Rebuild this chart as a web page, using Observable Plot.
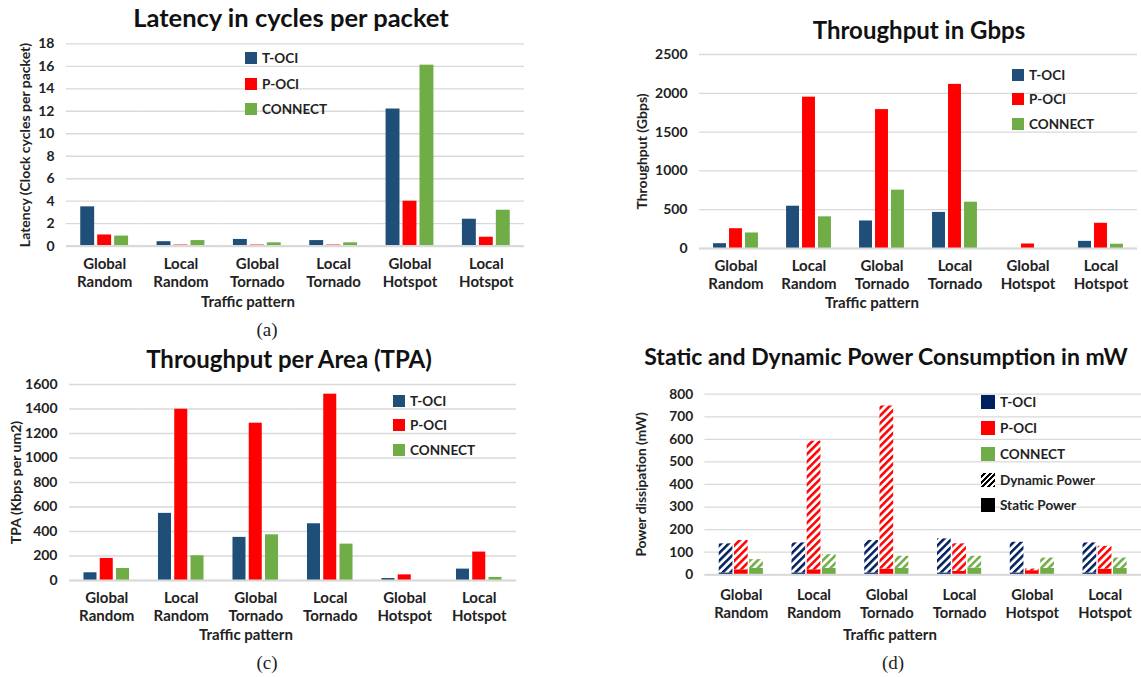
<!DOCTYPE html>
<html><head><meta charset="utf-8">
<script src="https://cdn.jsdelivr.net/npm/d3@7"></script>
<script src="https://cdn.jsdelivr.net/npm/@observablehq/plot@0.6"></script>
<style>
html,body{margin:0;padding:0;background:#fff;overflow:hidden;}
body{width:1141px;height:677px;position:relative;font-family:Lato,"Open Sans",sans-serif;color:#222;}
.panel{position:absolute;line-height:0;}
.panel svg{overflow:visible;display:block;}
.title{position:absolute;font-weight:bold;font-size:24px;color:#111;white-space:nowrap;transform:translate(-50%,-50%);}
.xlab{position:absolute;font-weight:bold;font-size:15px;color:#222;transform:translate(-50%,-50%);white-space:nowrap;}
.cap{position:absolute;font-family:"Liberation Serif","DejaVu Serif",serif;font-size:19px;color:#222;transform:translate(-50%,-50%);}
.item{position:absolute;display:flex;align-items:center;white-space:nowrap;transform:translateY(-50%);font-weight:bold;font-size:13.5px;color:#222;}
.sw{width:12px;height:12px;margin-right:5px;}
</style></head><body>
<svg width="0" height="0" style="position:absolute">
<defs>
<pattern id="hatch-toci" patternUnits="userSpaceOnUse" width="5.5" height="5.5" patternTransform="rotate(45)"><rect width="5.5" height="5.5" fill="#fff"/><rect width="2.6" height="5.5" fill="#002060"/></pattern>
<pattern id="hatch-poci" patternUnits="userSpaceOnUse" width="5.5" height="5.5" patternTransform="rotate(45)"><rect width="5.5" height="5.5" fill="#fff"/><rect width="2.6" height="5.5" fill="#FF0000"/></pattern>
<pattern id="hatch-connect" patternUnits="userSpaceOnUse" width="5.5" height="5.5" patternTransform="rotate(45)"><rect width="5.5" height="5.5" fill="#fff"/><rect width="2.6" height="5.5" fill="#70AD47"/></pattern>
</defs></svg>
<script>
// ---------- data ----------
const patterns = ["Global Random","Local Random","Global Tornado","Local Tornado","Global Hotspot","Local Hotspot"];
const seriesNames = ["T-OCI","P-OCI","CONNECT"];
const colorsABC = ["#1F4E79","#FF0000","#70AD47"];
const colorsD = ["#002060","#FF0000","#70AD47"];

const latencyTOCI    = [3.5, 0.4, 0.6, 0.5, 12.2, 2.4];
const latencyPOCI    = [1.0, 0.1, 0.1, 0.1, 4.0, 0.8];
const latencyCONNECT = [0.9, 0.5, 0.3, 0.3, 16.1, 3.2];
const latencyTicks = [0,2,4,6,8,10,12,14,16,18];

const throughputTOCI    = [62, 545, 355, 465, 0, 92];
const throughputPOCI    = [255, 1950, 1790, 2115, 58, 325];
const throughputCONNECT = [200, 408, 752, 597, 0, 55];
const throughputTicks = [0,500,1000,1500,2000,2500];

const tpaTOCI    = [63, 548, 352, 463, 16, 93];
const tpaPOCI    = [180, 1398, 1284, 1521, 46, 232];
const tpaCONNECT = [98, 202, 373, 297, 0, 25];
const tpaTicks = [0,200,400,600,800,1000,1200,1400,1600];

const staticTOCI     = [8, 8, 8, 8, 8, 8];
const dynamicTOCI    = [129, 133, 144, 151, 136, 133];
const staticPOCI     = [22, 22, 25, 15, 18, 25];
const dynamicPOCI    = [130, 570, 723, 122, 7, 101];
const staticCONNECT  = [28, 28, 28, 30, 28, 28];
const dynamicCONNECT = [39, 61, 54, 52, 46, 46];
const powerTicks = [0,100,200,300,400,500,600,700,800];
const hatchIds = ["url(#hatch-toci)","url(#hatch-poci)","url(#hatch-connect)"];

// ---------- helpers ----------
function rows(a, b, c) {
  const vals = [a, b, c];
  return patterns.flatMap((p, i) => seriesNames.map((s, k) => ({pattern: p, series: s, value: vals[k][i]})));
}
const fmtPattern = d => d.replace(" ", "\n");
const font = "Lato, 'Open Sans', sans-serif";

function place(el, left, top) {
  const div = document.createElement("div");
  div.className = "panel";
  div.style.left = left + "px";
  div.style.top = top + "px";
  div.appendChild(el);
  document.body.appendChild(div);
}
function html(cls, text, x, y, size) {
  const d = document.createElement("div");
  d.className = cls; d.textContent = text;
  d.style.left = x + "px"; d.style.top = y + "px";
  if (size) d.style.fontSize = size + "px";
  document.body.appendChild(d);
}
function legend(items, x, ys, size) {
  items.forEach(([label, fill], i) => {
    const d = document.createElement("div");
    d.className = "item";
    d.style.left = x + "px"; d.style.top = ys[i] + "px";
    const sw = document.createElement("div");
    sw.className = "sw"; sw.style.background = fill;
    sw.style.width = size + "px"; sw.style.height = size + "px";
    const t = document.createElement("span"); t.textContent = label;
    d.appendChild(sw); d.appendChild(t);
    document.body.appendChild(d);
  });
}

function chart({data, ticks, yLabel, width, height, ml, mr, mt, mb, pi, po, colors, labelOffset, stacked, tickPad = 10, lh = 1.2}) {
  return Plot.plot({
    width, height,
    marginLeft: ml, marginRight: mr, marginTop: mt, marginBottom: mb,
    style: {fontFamily: font, fontSize: "14px", color: "#222", background: "transparent", overflow: "visible"},
    fx: {domain: patterns, padding: 0, round: false},
    x: {domain: seriesNames, paddingInner: pi, paddingOuter: po, axis: null, round: false},
    y: {domain: [ticks[0], ticks[ticks.length - 1]]},
    color: stacked ? {type: "identity"} : {domain: seriesNames, range: colors},
    marks: [
      Plot.gridY(ticks, {stroke: "#d9d9d9", strokeOpacity: 1, strokeWidth: 1.3}),
      stacked
        ? Plot.barY(data, {fx: "pattern", x: "series", y: "value", fill: "fill"})
        : Plot.barY(data, {fx: "pattern", x: "series", y: "value", fill: "series"}),
      Plot.ruleY([0], {stroke: "#d9d9d9", strokeWidth: 2.2}),
      Plot.axisY(ticks, {tickSize: 0, tickPadding: 12, fontWeight: "bold", fontSize: 14,
        tickFormat: d3.format("d"), label: yLabel, labelAnchor: "center", labelArrow: "none", labelOffset}),
      Plot.axisFx({anchor: "bottom", tickSize: 0, tickPadding: tickPad, fontWeight: "bold", fontSize: 15, lineHeight: lh, tickFormat: fmtPattern, label: null})
    ]
  });
}

// ---------- (a) Latency ----------
place(chart({
  data: rows(latencyTOCI, latencyPOCI, latencyCONNECT), ticks: latencyTicks,
  yLabel: "Latency (Clock cycles per packet)",
  width: 540, height: 280, ml: 66, mr: 16, mt: 13.3, mb: 64.3,
  pi: 0.18, po: 0.84, colors: colorsABC, labelOffset: 46
}), 0, 30);
html("title", "Latency in cycles per packet", 291, 17, 25.5);
html("xlab", "Traffic pattern", 248, 301);
html("cap", "(a)", 267, 330);
legend(seriesNames.map((s, i) => [s, colorsABC[i]]), 245, [58, 84, 109], 12);

// ---------- (b) Throughput ----------
place(chart({
  data: rows(throughputTOCI, throughputPOCI, throughputCONNECT), ticks: throughputTicks,
  yLabel: "Throughput (Gbps)",
  width: 571, height: 270, ml: 129, mr: 4, mt: 14, mb: 62,
  pi: 0.19, po: 0.88, colors: colorsABC, labelOffset: 62
}), 570, 40);
html("title", "Throughput in Gbps", 919, 29);
html("xlab", "Traffic pattern", 872, 302);
legend(seriesNames.map((s, i) => [s, colorsABC[i]]), 1012, [75, 99, 124], 12);

// ---------- (c) TPA ----------
place(chart({
  data: rows(tpaTOCI, tpaPOCI, tpaCONNECT), ticks: tpaTicks,
  yLabel: "TPA (Kbps per um2)",
  width: 540, height: 260, ml: 69, mr: 24, mt: 14, mb: 50,
  pi: 0.2, po: 0.89, colors: colorsABC, labelOffset: 58
}), 0, 370);
html("title", "Throughput per Area (TPA)", 289, 358);
html("xlab", "Traffic pattern", 246, 634);
html("cap", "(c)", 267, 663);
legend(seriesNames.map((s, i) => [s, colorsABC[i]]), 393, [401, 425, 450], 12);

// ---------- (d) Power ----------
const staticVals = [staticTOCI, staticPOCI, staticCONNECT];
const dynamicVals = [dynamicTOCI, dynamicPOCI, dynamicCONNECT];
const powerRows = patterns.flatMap((p, i) => seriesNames.flatMap((s, k) => [
  {pattern: p, series: s, kind: "Static Power", value: staticVals[k][i], fill: colorsD[k]},
  {pattern: p, series: s, kind: "Dynamic Power", value: dynamicVals[k][i], fill: hatchIds[k]}
]));
place(chart({
  data: powerRows, ticks: powerTicks,
  yLabel: "Power dissipation (mW)",
  width: 582, height: 254, ml: 137, mr: 0, mt: 14, mb: 56,
  pi: 0.1, po: 0.94, colors: colorsD, labelOffset: 70, stacked: true, tickPad: 12, lh: 1.25
}), 570, 380);
html("title", "Static and Dynamic Power Consumption in mW", 886, 356, 23);
html("xlab", "Traffic pattern", 890, 634);
html("cap", "(d)", 893, 663);
legend([...seriesNames.map((s, i) => [s, colorsD[i]]),
  ["Dynamic Power", "repeating-linear-gradient(-45deg, #000 0 2px, #fff 2px 4px)"],
  ["Static Power", "#000"]],
  981, [402, 428, 454, 480, 505], 14);
</script>
</body></html>
